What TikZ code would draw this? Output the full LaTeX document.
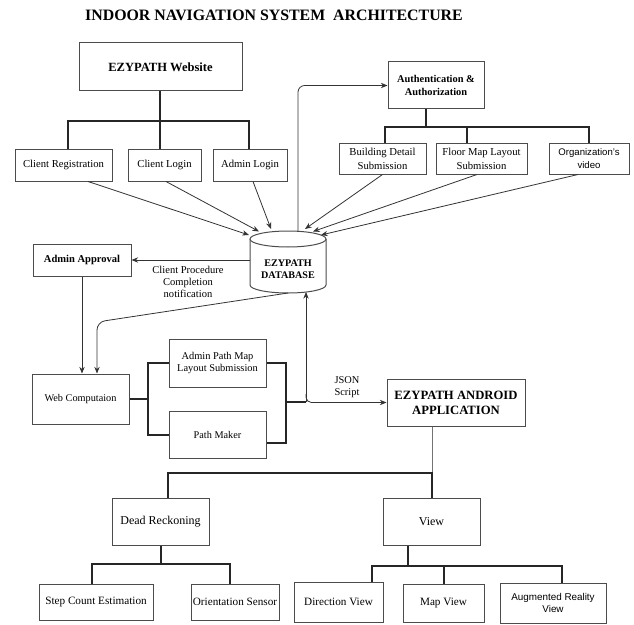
\documentclass[tikz,border=0pt]{standalone}
\usepackage{fontspec}
\setmainfont{Liberation Serif}
\setsansfont{Liberation Sans}
\usetikzlibrary{arrows.meta}
\tikzset{
 bx/.style={draw=black!70, line width=0.75pt, inner sep=0pt, align=center, fill=white},
 tree/.style={draw=black!85, line width=1.5pt},
 thinln/.style={draw=black!55, line width=0.75pt},
 arr/.style={draw=black!80, line width=0.6pt, -{Stealth[length=5pt,width=4pt]}},
 lbl/.style={inner sep=0pt, align=center},
}
\begin{document}
\begin{tikzpicture}[x=0.75pt,y=-0.75pt]
\useasboundingbox (0,0) rectangle (634,624);
% title
\node[lbl, font=\fontsize{11.9}{14}\selectfont\bfseries] (title) at (274,15) {INDOOR NAVIGATION SYSTEM\ \ ARCHITECTURE};

% top-left group
\node[bx, minimum width=122.25pt, minimum height=36pt, font=\fontsize{9.4}{11}\selectfont\bfseries] (web) at (160.5,67) {EZYPATH Website};
\node[bx, minimum width=72.75pt, minimum height=24pt, font=\fontsize{8}{10}\selectfont] (creg) at (63.5,165) {Client Registration};
\node[bx, minimum width=54.75pt, minimum height=24pt, font=\fontsize{8}{10}\selectfont] (clog) at (164.5,165) {Client Login};
\node[bx, minimum width=55.5pt, minimum height=24pt, font=\fontsize{8}{10}\selectfont] (alog) at (250,165) {Admin Login};

% top-right group
\node[bx, minimum width=72pt, minimum height=35.25pt, font=\fontsize{7.8}{9.75}\selectfont\bfseries] (auth) at (436,85.5) {Authentication \&\\Authorization};
\node[bx, minimum width=65.25pt, minimum height=23.25pt, font=\fontsize{8}{10.5}\selectfont] (bld) at (382.5,158.5) {Building Detail\\Submission};
\node[bx, minimum width=68.25pt, minimum height=23.25pt, font=\fontsize{8}{10.5}\selectfont] (floor) at (481.5,158.5) {Floor Map Layout\\Submission};
\node[bx, minimum width=60pt, minimum height=23.25pt, font=\fontsize{7.2}{9.75}\selectfont\sffamily] (org) at (589,158.5) {Organization's\\video};

% database cylinder
\fill[white] (250,239) rectangle (326,285);
\draw[black!70, line width=0.75pt, fill=white] (250,239) -- (250,285) arc[start angle=180, end angle=360, x radius=28.5pt, y radius=6pt] -- (326,239);
\draw[black!70, line width=0.75pt, fill=white] (288,239) ellipse [x radius=28.5pt, y radius=6pt];
\node[lbl, font=\fontsize{7.6}{9}\selectfont\bfseries] (db) at (288,269.5) {EZYPATH\\DATABASE};
\coordinate (dbA) at (249,235);
\coordinate (dbB) at (259,231.5);
\coordinate (dbC) at (271,229);
\coordinate (dbD) at (305,229);
\coordinate (dbE) at (313,231.5);
\coordinate (dbF) at (321,235);
\coordinate (dbT) at (298,231.3);
\coordinate (dbL) at (250,260);
\coordinate (dbBot) at (288,293);
\coordinate (dbIn) at (306,292);

% middle
\node[bx, minimum width=73.5pt, minimum height=24pt, font=\fontsize{7.9}{9.5}\selectfont\bfseries] (appr) at (82,260) {Admin Approval};
\node[lbl, font=\fontsize{7.9}{9}\selectfont] (cpn) at (188,282) {Client Procedure\\Completion\\notification};
\node[bx, minimum width=72.75pt, minimum height=37.5pt, font=\fontsize{7.7}{9}\selectfont] (webc) at (80.5,399) {Web Computaion};
\node[bx, minimum width=72.75pt, minimum height=36pt, font=\fontsize{7.8}{9}\selectfont] (apm) at (217.5,363) {Admin Path Map\\Layout Submission};
\node[bx, minimum width=72.75pt, minimum height=35.25pt, font=\fontsize{7.7}{9}\selectfont] (pm) at (217.5,434.5) {Path Maker};
\node[lbl, font=\fontsize{7.8}{9}\selectfont] (json) at (347,387) {JSON\\Script};
\node[bx, minimum width=103.5pt, minimum height=35.25pt, font=\fontsize{9.5}{11.25}\selectfont\bfseries] (andr) at (456,402.5) {EZYPATH ANDROID\\APPLICATION};

% bottom
\node[bx, minimum width=72.75pt, minimum height=35.25pt, font=\fontsize{9}{11}\selectfont] (deadr) at (160.5,521.5) {Dead Reckoning};
\node[bx, minimum width=72.75pt, minimum height=35.25pt, font=\fontsize{9}{11}\selectfont] (view) at (431.5,521.5) {View};
\node[bx, minimum width=85.5pt, minimum height=27pt, font=\fontsize{8.4}{10}\selectfont] (step) at (96,602) {Step Count Estimation};
\node[bx, minimum width=66pt, minimum height=27pt, font=\fontsize{8.4}{10}\selectfont] (ori) at (235,602) {Orientation Sensor};
\node[bx, minimum width=66.75pt, minimum height=30pt, font=\fontsize{8.4}{10}\selectfont] (dir) at (338.5,602) {Direction View};
\node[bx, minimum width=60.75pt, minimum height=28.5pt, font=\fontsize{8.4}{10}\selectfont] (mp) at (443.5,603) {Map View};
\node[bx, minimum width=79.5pt, minimum height=30pt, font=\fontsize{7.4}{9}\selectfont\sffamily] (ar) at (553,603) {Augmented Reality\\View};

% website tree
\coordinate (wJ) at (160,121);
\coordinate (wL) at (68,121);
\coordinate (wR) at (249,121);
\draw[tree] (wJ |- web.south) -- (wJ) -- (wJ |- clog.north);
\draw[tree] (wL |- creg.north) -- (wL) -- (wR) -- (wR |- alog.north);

% auth tree
\coordinate (aJ) at (426,127);
\coordinate (aL) at (385,127);
\coordinate (aM) at (467,127);
\coordinate (aR) at (589,127);
\draw[tree] (aJ |- auth.south) -- (aJ);
\draw[tree] (aL |- bld.north) -- (aL) -- (aR) -- (aR |- org.north);
\draw[tree] (aM) -- (aM |- floor.north);

% arrows into database
\draw[arr] (creg.south) ++(24.5,0) -- (dbA);
\draw[arr] (clog.south) ++(1.5,0) -- (dbB);
\draw[arr] (alog.south) ++(3,0) -- (dbC);
\draw[arr] (bld.south) -- (dbD);
\draw[arr] (floor.south) ++(-4.5,0) -- (dbE);
\draw[arr] (org.south) ++(-11,0) -- (dbF);

% database to authentication
\draw[arr, rounded corners=5pt] (dbT) -- (dbT |- auth.west) -- (auth.west);
% database to admin approval
\draw[arr] (dbL) -- (appr.east);
% admin approval to web computation
\draw[arr] (appr.south) -- (appr.south |- webc.north);
% database to web computation
\coordinate (wc) at (97,322);
\draw[arr, rounded corners=6pt] (dbBot) -- (wc) -- (wc |- webc.north);

% bracket web computation
\coordinate (bl) at (148,399);
\draw[tree] (webc.east) -- (bl);
\draw[tree] (apm.west) -| (bl) |- (pm.west);
\coordinate (br) at (286,402);
\path (pm.east) ++(0,8.5) coordinate (pmR);
\draw[tree] (apm.east) -| (br) |- (pmR);
\coordinate (jn) at (306,402);
\draw[tree] (br) -- (jn);
\draw[arr] (jn) -- (dbIn);
\draw[arr, rounded corners=4pt] (jn) ++(0,-8) -- (jn |- andr.west) -- (andr.west);

% android tree
\coordinate (aj) at (432,473);
\coordinate (al) at (168,473);
\draw[thinln] (aj |- andr.south) -- (aj);
\draw[tree] (al |- deadr.north) -- (al) -- (aj) -- (aj |- view.north);

% dead reckoning tree
\coordinate (dJ) at (161,564);
\coordinate (dL) at (92,564);
\coordinate (dR) at (230,564);
\draw[tree] (dJ |- deadr.south) -- (dJ);
\draw[tree] (dL |- step.north) -- (dL) -- (dR) -- (dR |- ori.north);

% view tree
\coordinate (vJ) at (408,566);
\coordinate (vL) at (372,566);
\coordinate (vR) at (562,566);
\draw[tree] (vJ |- view.south) -- (vJ);
\draw[tree] (vL |- dir.north) -- (vL) -- (vR) -- (vR |- ar.north);
\draw[tree] (mp.north) -- (mp.north |- vL);
\end{tikzpicture}
\end{document}
